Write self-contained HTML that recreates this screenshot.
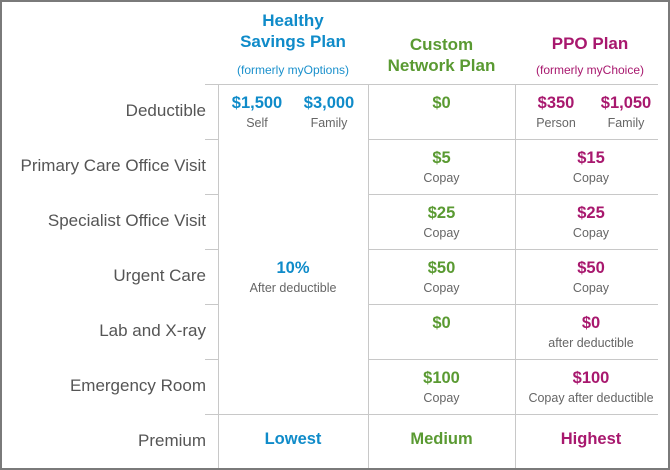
<!DOCTYPE html>
<html><head><style>
body{margin:0;width:670px;height:470px;overflow:hidden;background:#fff;font-family:"Liberation Sans",sans-serif}
#f{position:absolute;left:0;top:0;width:666px;height:466px;border:2px solid #7a7a7a}
.h{position:absolute;height:1px;background:#c8c8c8;left:205px;width:453px}
.v{position:absolute;width:1px;background:#c8c8c8;top:84px;height:384px}
.t{position:absolute;text-align:center;white-space:nowrap}
.lab{position:absolute;right:464px;font-size:17px;color:#555;white-space:nowrap}
.b{color:#0f8bc9;font-weight:bold}.g{color:#5a9a32;font-weight:bold}.p{color:#a8186e;font-weight:bold}
.s{font-size:12.5px;color:#666;font-weight:normal}
.big{font-size:16.5px}
</style></head><body><div id="f"></div>
<div class="h" style="top:84px"></div><div class="h" style="top:139px;left:368px;width:290px"></div><div class="h" style="top:194px;left:368px;width:290px"></div><div class="h" style="top:249px;left:368px;width:290px"></div><div class="h" style="top:304px;left:368px;width:290px"></div><div class="h" style="top:359px;left:368px;width:290px"></div><div class="h" style="top:414px"></div>
<div class="h" style="top:139px;width:13px"></div><div class="h" style="top:194px;width:13px"></div><div class="h" style="top:249px;width:13px"></div><div class="h" style="top:304px;width:13px"></div><div class="h" style="top:359px;width:13px"></div>
<div class="v" style="left:218px"></div><div class="v" style="left:368px"></div><div class="v" style="left:515px"></div>
<div class="t b" style="left:218px;width:150px;top:10px;font-size:17px;line-height:21px">Healthy<br>Savings Plan</div>
<div class="t" style="left:218px;width:150px;top:63px;font-size:12px;color:#1a90cc">(formerly myOptions)</div>
<div class="t g" style="left:368px;width:147px;top:34px;font-size:17px;line-height:21px">Custom<br>Network Plan</div>
<div class="t p" style="left:515px;width:150px;top:34px;font-size:17px">PPO Plan</div>
<div class="t" style="left:515px;width:150px;top:63px;font-size:12px;color:#a8186e">(formerly myChoice)</div>
<div class="lab" style="top:101px">Deductible</div>
<div class="lab" style="top:156px">Primary Care Office Visit</div>
<div class="lab" style="top:211px">Specialist Office Visit</div>
<div class="lab" style="top:266px">Urgent Care</div>
<div class="lab" style="top:321px">Lab and X-ray</div>
<div class="lab" style="top:376px">Emergency Room</div>
<div class="lab" style="top:431px">Premium</div>
<div class="t b big" style="left:222px;width:70px;top:94px">$1,500<br><span class="s">Self</span></div>
<div class="t b big" style="left:294px;width:70px;top:94px">$3,000<br><span class="s">Family</span></div>
<div class="t b big" style="left:218px;width:150px;top:259px">10%<br><span class="s">After deductible</span></div>
<div class="t b big" style="left:218px;width:150px;top:430px">Lowest</div>
<div class="t g big" style="left:368px;width:147px;top:94px">$0</div>
<div class="t g big" style="left:368px;width:147px;top:149px">$5<br><span class="s">Copay</span></div>
<div class="t g big" style="left:368px;width:147px;top:204px">$25<br><span class="s">Copay</span></div>
<div class="t g big" style="left:368px;width:147px;top:259px">$50<br><span class="s">Copay</span></div>
<div class="t g big" style="left:368px;width:147px;top:314px">$0</div>
<div class="t g big" style="left:368px;width:147px;top:369px">$100<br><span class="s">Copay</span></div>
<div class="t g big" style="left:368px;width:147px;top:430px">Medium</div>
<div class="t p big" style="left:520px;width:72px;top:94px">$350<br><span class="s">Person</span></div>
<div class="t p big" style="left:590px;width:72px;top:94px">$1,050<br><span class="s">Family</span></div>
<div class="t p big" style="left:515px;width:152px;top:149px">$15<br><span class="s">Copay</span></div>
<div class="t p big" style="left:515px;width:152px;top:204px">$25<br><span class="s">Copay</span></div>
<div class="t p big" style="left:515px;width:152px;top:259px">$50<br><span class="s">Copay</span></div>
<div class="t p big" style="left:515px;width:152px;top:314px">$0<br><span class="s">after deductible</span></div>
<div class="t p big" style="left:515px;width:152px;top:369px">$100<br><span class="s">Copay after deductible</span></div>
<div class="t p big" style="left:515px;width:152px;top:430px">Highest</div>
</body></html>
